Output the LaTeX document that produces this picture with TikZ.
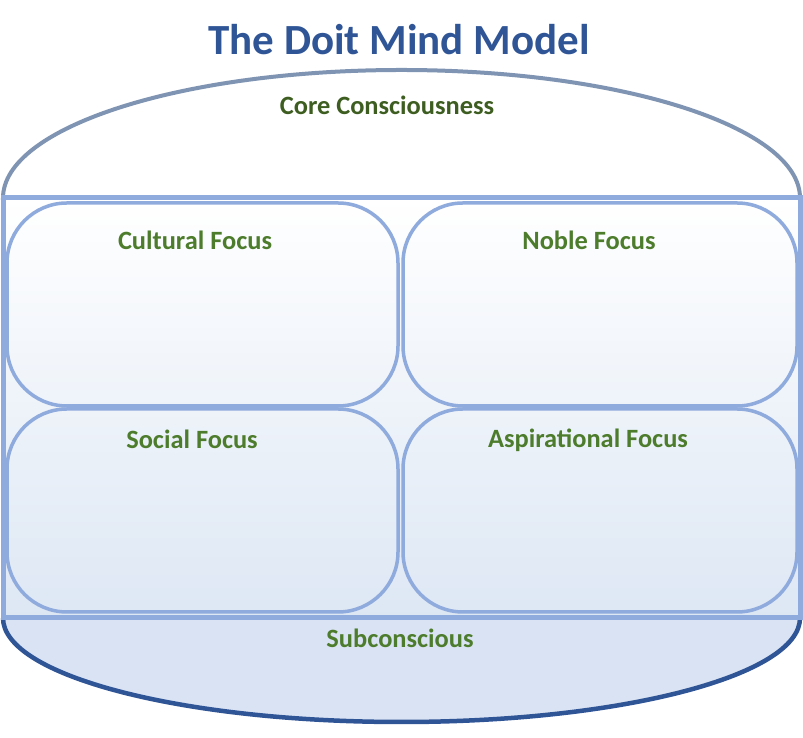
\documentclass[tikz,border=0pt]{standalone}
\usepackage{fontspec}
\setmainfont{Carlito}
\definecolor{titleblue}{HTML}{2F5597}
\definecolor{focusgreen}{HTML}{4C7C2C}
\definecolor{coregreen}{HTML}{3D5E20}
\definecolor{boxblue}{HTML}{8FAADC}
\definecolor{topstroke}{HTML}{7F94B2}
\definecolor{botstroke}{HTML}{2F5597}
\definecolor{botfill}{HTML}{DAE3F3}
\definecolor{rectbot}{HTML}{DDE7F4}
\begin{document}
\begin{tikzpicture}[x=1pt,y=1pt,
  lbl/.style={font=\fontsize{26.4}{30}\selectfont\bfseries, text=focusgreen, inner sep=0pt},
  focusbox/.style={draw=boxblue, line width=3.5pt, rounded corners=60pt, inner sep=0pt, outer sep=0pt},
]
\useasboundingbox (0,0) rectangle (803,738);
% title
\node[font=\fontsize{43}{48}\selectfont\bfseries, text=titleblue, inner sep=0pt] (title) at (399,698) {The Doit Mind Model};
% top half ellipse (core consciousness)
\coordinate (tl) at (3,540);
\coordinate (tr) at (800,540);
\filldraw[fill=white, draw=topstroke, line width=4pt] (tl) arc[start angle=180, end angle=0, x radius=398.5, y radius=128] -- cycle;
% bottom half ellipse (subconscious)
\filldraw[fill=botfill, draw=none] (3,120) arc[start angle=180, end angle=360, x radius=398.5, y radius=104] -- cycle;
\draw[draw=botstroke, line width=4.5pt] (3,120) arc[start angle=180, end angle=360, x radius=398.5, y radius=104];
% central rectangle
\node[draw=boxblue, line width=5pt, top color=white, bottom color=rectbot, minimum width=797pt, minimum height=420pt, inner sep=0pt, outer sep=0pt] (mid) at (401.5,330) {};
% focus boxes
\node[focusbox, minimum width=391pt, minimum height=203pt] (cult) at (202.5,433.5) {};
\node[focusbox, minimum width=394pt, minimum height=203pt] (noble) at (600,433.5) {};
\node[focusbox, minimum width=391pt, minimum height=203pt] (social) at (202.5,227.5) {};
\node[focusbox, minimum width=394pt, minimum height=203pt] (aspir) at (600,227.5) {};
% labels
\node[lbl, text=coregreen] (corel) at (387,633) {Core Consciousness};
\node[lbl] (cultl) at (195,498) {Cultural Focus};
\node[lbl] (noblel) at (589,498) {Noble Focus};
\node[lbl] (sociall) at (192,299) {Social Focus};
\node[lbl] (aspirl) at (588,298) {Aspirational Focus};
\node[lbl] (subl) at (400,100) {Subconscious};
\end{tikzpicture}
\end{document}
